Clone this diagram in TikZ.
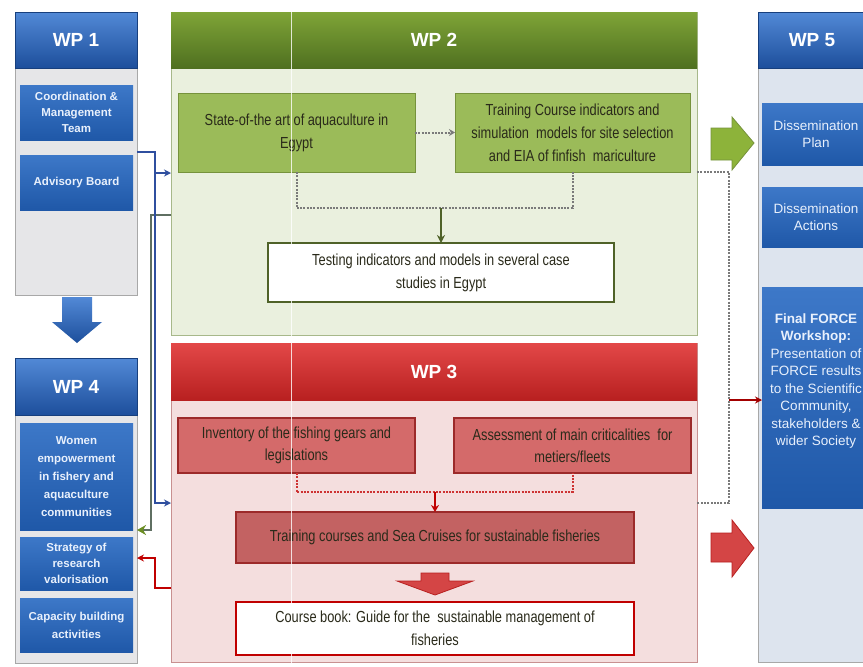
\documentclass[tikz,border=0pt]{standalone}
\usepackage{fontspec}
\setmainfont{Liberation Sans}
\newfontfamily\narrowfont{Liberation Sans}[FakeStretch=0.8]
\usetikzlibrary{arrows.meta}
\definecolor{bhTop}{HTML}{5289D6}
\definecolor{bhBot}{HTML}{1D4F9C}
\definecolor{bbTop}{HTML}{3D78C8}
\definecolor{bbBot}{HTML}{1F58A8}
\definecolor{colGray}{HTML}{E6E6E8}
\definecolor{colBorder}{HTML}{A8A8A8}
\definecolor{wpFiveBody}{HTML}{DDE4EE}
\definecolor{ghTop}{HTML}{7FA437}
\definecolor{ghBot}{HTML}{4F7020}
\definecolor{gBody}{HTML}{EAF0DE}
\definecolor{gBodyBorder}{HTML}{A7B88A}
\definecolor{gBox}{HTML}{9BBB59}
\definecolor{gBoxBorder}{HTML}{76923C}
\definecolor{gArrow}{HTML}{8DB33A}
\definecolor{gDark}{HTML}{4F6228}
\definecolor{rhTop}{HTML}{E34848}
\definecolor{rhBot}{HTML}{B82020}
\definecolor{rBody}{HTML}{F4DEDE}
\definecolor{rBodyBorder}{HTML}{C89090}
\definecolor{rBox}{HTML}{D46A6A}
\definecolor{rBoxBorder}{HTML}{9C2A2A}
\definecolor{rArrow}{HTML}{D44545}
\definecolor{rDark}{HTML}{C00000}
\definecolor{conBlue}{HTML}{2F4F9F}
\definecolor{conGray}{HTML}{5F6F62}
\definecolor{conGreen}{HTML}{6B8E23}
\definecolor{dotGray}{HTML}{7A7A7A}
\definecolor{txtDark}{HTML}{2A2A1A}
\definecolor{txtWhite}{HTML}{E8F0FC}
\begin{document}
\begin{tikzpicture}[x=1pt,y=-1pt,
  base/.style={inner sep=0pt, outer sep=0pt, align=center},
  column/.style={base, draw=colBorder, fill=colGray, line width=0.8pt},
  bluehdr/.style={base, top color=bhTop, bottom color=bhBot, draw=bhBot!80!black, text=white, font=\bfseries\fontsize{19}{22}\selectfont},
  bluebox/.style={base, top color=bbTop, bottom color=bbBot, text=txtWhite, font=\bfseries\fontsize{11.5}{16}\selectfont},
  fivebox/.style={base, top color=bbTop, bottom color=bbBot},
  fivetext/.style={text=txtWhite, font=\fontsize{13.5}{17.5}\selectfont, align=center, inner sep=0pt},
  greenhdr/.style={base, top color=ghTop, bottom color=ghBot, text=white, font=\bfseries\fontsize{19}{22}\selectfont},
  greenbody/.style={base, draw=gBodyBorder, fill=gBody, line width=1pt},
  greenbox/.style={base, draw=gBoxBorder, fill=gBox, line width=1pt, text=txtDark, font=\narrowfont\fontsize{16}{23}\selectfont},
  whitegbox/.style={base, draw=gDark, fill=white, line width=2pt, text=txtDark, font=\narrowfont\fontsize{16}{23}\selectfont},
  redhdr/.style={base, top color=rhTop, bottom color=rhBot, text=white, font=\bfseries\fontsize{19}{22}\selectfont},
  redbody/.style={base, draw=rBodyBorder, fill=rBody, line width=1pt},
  redbox/.style={base, draw=rBoxBorder, fill=rBox, line width=1.2pt, text=txtDark, font=\narrowfont\fontsize{16}{22}\selectfont},
  whiterbox/.style={base, draw=rDark, fill=white, line width=2pt, text=txtDark, font=\narrowfont\fontsize{16}{23}\selectfont},
  dotline/.style={draw=dotGray, line width=2pt, dash pattern=on 2pt off 1.3pt},
  bluecon/.style={draw=conBlue, line width=1.5pt, -{Stealth[length=7pt,width=7pt]}},
  graycon/.style={draw=conGray, line width=2.5pt, -{Stealth[length=9pt,width=10pt,color=conGreen]}},
  redcon/.style={draw=rDark, line width=1.5pt, -{Stealth[length=7pt,width=7pt]}},
  blockblue/.style={top color=bhTop, bottom color=bhBot},
  blockgreen/.style={fill=gArrow, draw=gBoxBorder, line width=0.8pt},
  blockred/.style={fill=rArrow, draw=rhBot, line width=0.8pt}
]
\clip (0,0) rectangle (863,667);
\fill[white] (0,0) rectangle (863,667);

% ---------- WP1 ----------
\node[column, minimum width=122, minimum height=283] (wp1) at (76,153.5) {};
\node[bluehdr, minimum width=122, minimum height=56] (wp1h) at (76,40) {WP 1};
\node[bluebox, minimum width=113, minimum height=55] (coord) at (76.5,112.5) {Coordination \&\\Management\\Team};
\node[bluebox, minimum width=113, minimum height=55] (adv) at (76.5,182.5) {Advisory Board};

% blue block arrow WP1 -> WP4
\path[blockblue] (62,297) -- (92,297) -- (92,322) -- (102,322) -- (77,343) -- (52,322) -- (62,322) -- cycle;

% ---------- WP4 ----------
\node[column, minimum width=122, minimum height=305] (wp4) at (76,510.5) {};
\node[bluehdr, minimum width=122, minimum height=57] (wp4h) at (76,386.5) {WP 4};
\node[bluebox, minimum width=113, minimum height=107, font=\bfseries\fontsize{11.5}{18}\selectfont] (women) at (76.5,476.5) {Women\\empowerment\\in fishery and\\aquaculture\\communities};
\node[bluebox, minimum width=113, minimum height=53] (strat) at (76.5,563.5) {Strategy of\\research\\valorisation};
\node[bluebox, minimum width=113, minimum height=54, font=\bfseries\fontsize{11.5}{18}\selectfont] (cap) at (76.5,625) {Capacity building\\activities};

% ---------- WP2 ----------
\node[greenbody, minimum width=526, minimum height=323] (wp2) at (434,173.5) {};
\node[greenhdr, minimum width=526, minimum height=56] (wp2h) at (434,40) {WP 2};
\node[greenbox, minimum width=237, minimum height=79] (state) at (296.5,132.5) {State-of-the art of aquaculture in\\Egypt};
\node[greenbox, minimum width=235, minimum height=79] (train) at (572.5,132.5) {Training Course indicators and\\simulation\ \ models for site selection\\and EIA of finfish\ \ mariculture};
\node[whitegbox, minimum width=346, minimum height=59] (test) at (441,272.5) {Testing indicators and models in several case\\studies in Egypt};
\coordinate (jg) at (441,208);
\draw[dotline, -{Stealth[length=6pt,width=7pt]}] (state.east) -- (train.west);
\draw[dotline] (state.south) |- (jg) -| (train.south);
\draw[draw=gDark, line width=1.5pt, -{Stealth[length=8pt,width=8pt]}] (jg) -- (test.north);

% ---------- WP3 ----------
\node[redbody, minimum width=526, minimum height=319] (wp3) at (434,502.5) {};
\node[redhdr, minimum width=526, minimum height=57] (wp3h) at (434,371.5) {WP 3};
\node[redbox, minimum width=237, minimum height=55] (inv) at (296.5,445.5) {Inventory of the fishing gears and\\legislations};
\node[redbox, minimum width=237, minimum height=55] (assess) at (572.5,445.5) {Assessment of main criticalities\ \ for\\metiers/fleets};
\node[redbox, minimum width=398, minimum height=51, fill=rBox!92!black] (tcourse) at (435,537.5) {Training courses and Sea Cruises for sustainable fisheries};
\node[whiterbox, minimum width=398, minimum height=53] (book) at (435,628.5) {Course book: Guide for the\ \ sustainable management of\\fisheries};
\coordinate (jr) at (435,492);
\draw[dotline, draw=rDark!80] (inv.south) |- (jr) -| (assess.south);
\draw[draw=rDark, line width=1.5pt, -{Stealth[length=7pt,width=8pt]}] (jr) -- (tcourse.north);
\path[blockred] (421,573) -- (449,573) -- (449,581) -- (473,581) -- (435,595) -- (397,581) -- (421,581) -- cycle;

% thin white scan line
\draw[white, line width=1pt, opacity=0.8] (291,12) -- (291,667);

% ---------- WP5 ----------
\node[base, draw=colBorder, fill=wpFiveBody, line width=0.8pt, minimum width=122, minimum height=650, anchor=north west] (wp5) at (758,12) {};
\node[bluehdr, minimum width=122, minimum height=56, anchor=north west] (wp5h) at (758,12) {};
\node[text=white, font=\bfseries\fontsize{19}{22}\selectfont] at (812,40) {WP 5};
\node[fivebox, minimum width=108, minimum height=62, anchor=north west] (plan) at (762,103) {};
\node[fivetext] at (816,134) {Dissemination\\Plan};
\node[fivebox, minimum width=108, minimum height=60, anchor=north west] (actions) at (762,187) {};
\node[fivetext] at (816,217) {Dissemination\\Actions};
\node[fivebox, minimum width=108, minimum height=221, anchor=north west] (final) at (762,287) {};
\node[fivetext] at (816,381) {\textbf{Final FORCE}\\\textbf{Workshop:}\\Presentation of\\FORCE results\\to the Scientific\\Community,\\stakeholders \&\\wider Society};

% block arrows to WP5
\path[blockgreen] (711,128) -- (732,128) -- (732,117) -- (754,143) -- (732,170) -- (732,160) -- (711,160) -- cycle;
\path[blockred] (711,533) -- (732,533) -- (732,520) -- (754,548) -- (732,577) -- (732,562) -- (711,562) -- cycle;

% ---------- right connectors ----------
\coordinate (rtop) at (729,172);
\coordinate (rbot) at (729,503);
\coordinate (rmid) at (729,400);
\draw[dotline] (wp2.east |- rtop) -- (rtop) -- (rbot) -- (wp3.east |- rbot);
\draw[draw=rDark!85!black, line width=1.3pt, -{Stealth[length=7pt,width=7pt]}] (rmid) -- (final.west |- rmid);

% ---------- left connectors ----------
\coordinate (lb1) at (155,152);
\coordinate (lb2) at (155,173);
\coordinate (lb3) at (155,503);
\coordinate (lg1) at (151,215);
\coordinate (lg2) at (151,530);
\coordinate (lr1) at (155,588);
\coordinate (lr2) at (155,558);
\draw[graycon] (wp2.west |- lg1) -- (lg1) -- (lg2) -- (wp4.east |- lg2);
\draw[bluecon] (wp1.east |- lb1) -- (lb1) -- (lb2) -- (wp2.west |- lb2);
\draw[bluecon] (lb2) -- (lb3) -- (wp3.west |- lb3);
\draw[redcon] (wp3.west |- lr1) -- (lr1) -- (lr2) -- (wp4.east |- lr2);
\end{tikzpicture}
\end{document}
